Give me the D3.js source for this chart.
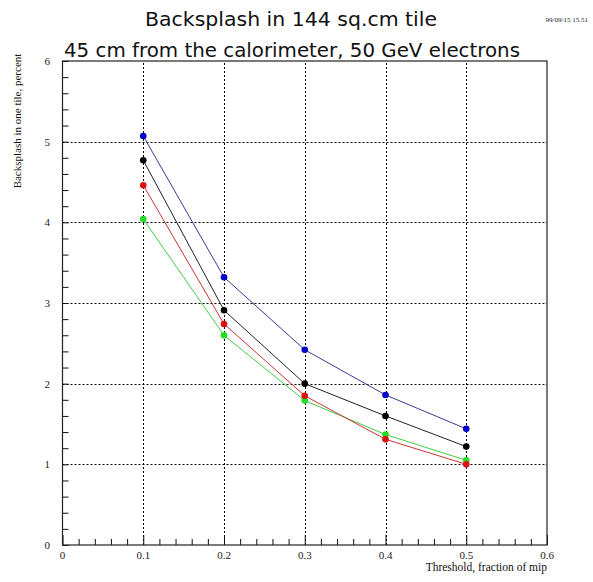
<!DOCTYPE html>
<html>
<head>
<meta charset="utf-8">
<script src="https://cdn.jsdelivr.net/npm/d3@7"></script>
<style>
  body { margin: 0; background: #fff; }
  svg { display: block; }
</style>
</head>
<body>
<svg width="593" height="582"></svg>
<script>
// thresholds (fraction of mip)
var thresholds = [0.1, 0.2, 0.3, 0.4, 0.5];
// backsplash in one tile, percent
var blueVals  = [5.07, 3.32, 2.42, 1.86, 1.44];
var blackVals = [4.77, 2.91, 2.00, 1.60, 1.22];
var redVals   = [4.46, 2.74, 1.85, 1.31, 1.00];
var greenVals = [4.04, 2.60, 1.79, 1.37, 1.05];
var xTicks = [0, 0.1, 0.2, 0.3, 0.4, 0.5, 0.6];
var yTicks = [0, 1, 2, 3, 4, 5, 6];

var series = [
  {id: "green", values: greenVals, line: "#44cc44", dot: "#22dd22"},
  {id: "red",   values: redVals,   line: "#cc3333", dot: "#dd1111"},
  {id: "black", values: blackVals, line: "#222222", dot: "#000000"},
  {id: "blue",  values: blueVals,  line: "#3a3a9a", dot: "#0000cc"}
];

var svg = d3.select("svg");
var margin = {top: 61, right: 46, bottom: 37, left: 62.5};
var width = svg.attr("width") - margin.left - margin.right;
var height = svg.attr("height") - margin.top - margin.bottom;

var x = d3.scaleLinear().domain([0, 0.6]).range([margin.left, margin.left + width]);
var y = d3.scaleLinear().domain([0, 6]).range([margin.top + height, margin.top]);

// titles
svg.append("text")
  .attr("x", 145).attr("y", 26)
  .attr("textLength", 292).attr("lengthAdjust", "spacingAndGlyphs")
  .style("font", "20px 'DejaVu Sans', sans-serif")
  .attr("fill", "#111")
  .text("Backsplash in 144 sq.cm tile");

svg.append("text")
  .attr("x", 64).attr("y", 57)
  .attr("textLength", 456).attr("lengthAdjust", "spacingAndGlyphs")
  .style("font", "20px 'DejaVu Sans', sans-serif")
  .attr("fill", "#111")
  .text("45 cm from the calorimeter, 50 GeV electrons");

svg.append("text")
  .attr("x", 588).attr("y", 22)
  .attr("text-anchor", "end")
  .style("font", "7px 'Liberation Serif', serif")
  .attr("fill", "#222")
  .text("99/09/15   15.51");

// grid lines
var grid = svg.append("g").attr("stroke", "#000").attr("stroke-width", 1).attr("stroke-dasharray", "2,2");
grid.selectAll(".gx")
  .data(xTicks.slice(1, -1))
  .enter().append("line")
    .attr("x1", function(d) { return Math.round(x(d)) + 0.5; })
    .attr("x2", function(d) { return Math.round(x(d)) + 0.5; })
    .attr("y1", y(0)).attr("y2", y(6));
grid.selectAll(".gy")
  .data(yTicks.slice(1, -1))
  .enter().append("line")
    .attr("y1", function(d) { return Math.round(y(d)) + 0.5; })
    .attr("y2", function(d) { return Math.round(y(d)) + 0.5; })
    .attr("x1", x(0)).attr("x2", x(0.6));

// axes with inward ticks
var xMinor = d3.range(0, 0.6001, 0.02);
var yMinor = d3.range(0, 6.001, 0.2);

var xAxis = svg.append("g")
  .attr("transform", "translate(0," + y(0) + ")")
  .call(d3.axisTop(x).tickValues(xMinor).tickSize(6).tickFormat(""));
xAxis.select(".domain").remove();
xAxis.selectAll("line").attr("stroke", "#111");
xAxis.selectAll(".tick").filter(function(d, i) { return i % 5 === 0; })
  .select("line").attr("y2", -10);

var yAxis = svg.append("g")
  .attr("transform", "translate(" + x(0) + ",0)")
  .call(d3.axisRight(y).tickValues(yMinor).tickSize(6).tickFormat(""));
yAxis.select(".domain").remove();
yAxis.selectAll("line").attr("stroke", "#111");

// frame
svg.append("rect")
  .attr("x", x(0)).attr("y", y(6))
  .attr("width", x(0.6) - x(0)).attr("height", y(0) - y(6))
  .attr("fill", "none").attr("stroke", "#222").attr("stroke-width", 1.2);

// tick labels
svg.append("g").selectAll("text")
  .data(xTicks)
  .enter().append("text")
    .attr("x", function(d) { return x(d); })
    .attr("y", 559)
    .attr("text-anchor", "middle")
    .style("font", "11px 'Liberation Serif', serif")
    .attr("fill", "#222")
    .text(function(d) { return d === 0 ? "0" : d3.format(".1f")(d); });

svg.append("g").selectAll("text")
  .data(yTicks)
  .enter().append("text")
    .attr("x", 50)
    .attr("y", function(d) { return y(d); })
    .attr("dy", "0.35em")
    .attr("text-anchor", "end")
    .style("font", "11px 'Liberation Serif', serif")
    .attr("fill", "#222")
    .text(function(d) { return d; });

// axis titles
svg.append("text")
  .attr("x", 547).attr("y", 571)
  .attr("text-anchor", "end")
  .style("font", "11.5px 'Liberation Serif', serif")
  .attr("fill", "#111")
  .text("Threshold, fraction of mip");

svg.append("text")
  .attr("transform", "translate(21,121) rotate(-90)")
  .attr("text-anchor", "middle")
  .style("font", "11px 'Liberation Serif', serif")
  .attr("fill", "#111")
  .text("Backsplash in one tile, percent");

// series
var line = d3.line()
  .x(function(d, i) { return x(thresholds[i]); })
  .y(function(d) { return y(d); });

var eachLine = svg.selectAll(".eachLine")
  .data(series)
  .enter().append("g")
    .attr("class", "eachLine");
eachLine.append("path")
  .attr("d", function(d) { return line(d.values); })
  .attr("fill", "none")
  .attr("stroke-width", 1)
  .style("stroke", function(d) { return d.line; });
eachLine.selectAll("circle")
  .data(function(d) { return d.values.map(function(v, i) { return {v: v, t: thresholds[i], c: d.dot}; }); })
  .enter().append("circle")
    .attr("cx", function(d) { return x(d.t); })
    .attr("cy", function(d) { return y(d.v); })
    .attr("r", 3.3)
    .attr("fill", function(d) { return d.c; });
</script>
</body>
</html>
